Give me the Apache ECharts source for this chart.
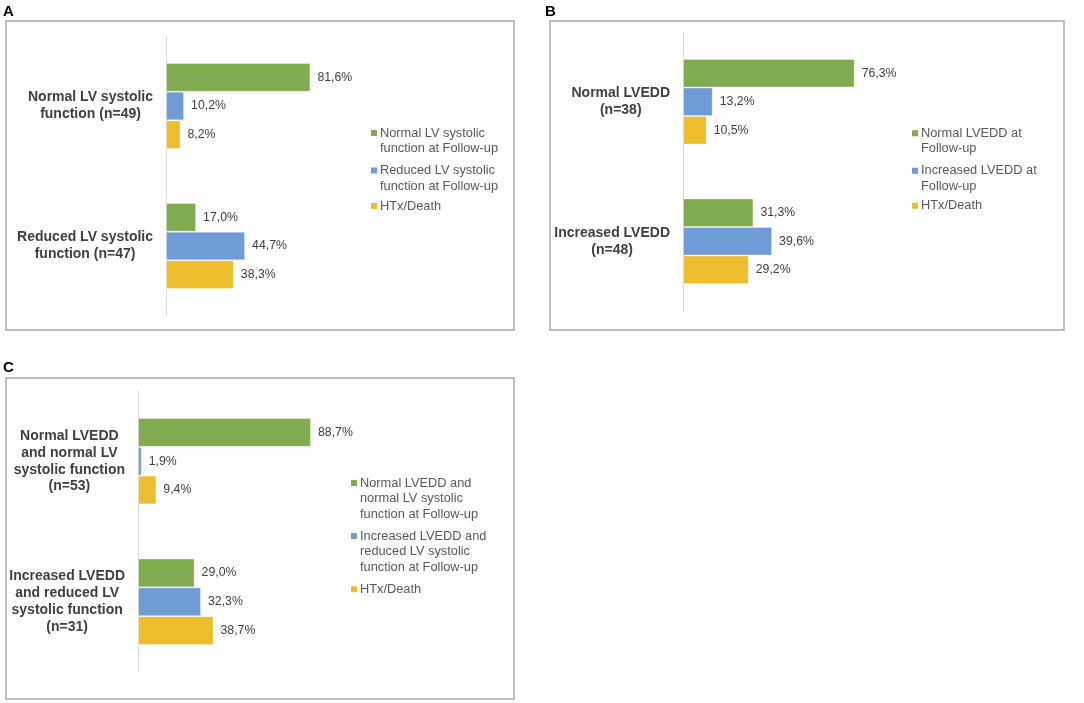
<!DOCTYPE html>
<html>
<head>
<meta charset="utf-8">
<script src="https://cdn.jsdelivr.net/npm/echarts@6/dist/echarts.min.js"></script>
<style>
html,body{margin:0;padding:0;background:#fff;}
#chart{width:1084px;height:703px;}
</style>
</head>
<body>
<div id="chart"></div>
<script>
// ---- Data ----
const catsA = ['Normal LV systolic\nfunction (n=49)', 'Reduced LV systolic\nfunction (n=47)'];
const legA = ['Normal LV systolic\nfunction at Follow-up', 'Reduced LV systolic\nfunction at Follow-up', 'HTx/Death'];
const greenA = [81.6, 17.0];
const blueA = [10.2, 44.7];
const yellowA = [8.2, 38.3];

const catsB = ['Normal LVEDD\n(n=38)', 'Increased LVEDD\n(n=48)'];
const legB = ['Normal LVEDD at\nFollow-up', 'Increased LVEDD at\nFollow-up', 'HTx/Death'];
const greenB = [76.3, 31.3];
const blueB = [13.2, 39.6];
const yellowB = [10.5, 29.2];

const catsC = ['Normal LVEDD\nand normal LV\nsystolic function\n(n=53)', 'Increased LVEDD\nand reduced LV\nsystolic function\n(n=31)'];
const legC = ['Normal LVEDD and\nnormal LV systolic\nfunction at Follow-up', 'Increased LVEDD and\nreduced LV systolic\nfunction at Follow-up', 'HTx/Death'];
const greenC = [88.7, 29.0];
const blueC = [1.9, 32.3];
const yellowC = [9.4, 38.7];

// ---- Styling ----
const FONT = "'Liberation Sans', Arial, sans-serif";
const COLORS = ['#80ab4e', '#6f9bd6', '#edbd2d'];
const panels = [
  {cats: catsA, leg: legA, vals: [greenA, blueA, yellowA], grid: {left: 166, top: 36, width: 177, height: 280},
   legLeft: 371, legTop: 125.25, leg2Top: 198.25, lines: 2},
  {cats: catsB, leg: legB, vals: [greenB, blueB, yellowB], grid: {left: 683, top: 32, width: 225, height: 279},
   legLeft: 912, legTop: 125.5, leg2Top: 198, lines: 2},
  {cats: catsC, leg: legC, vals: [greenC, blueC, yellowC], grid: {left: 138, top: 391, width: 195, height: 281},
   legLeft: 351, legTop: 475.25, leg2Top: 581.5, lines: 3}
];

const LH = 15.5;
const grids = [], xAxes = [], yAxes = [], series = [], legends = [];
panels.forEach((p, i) => {
  grids.push(Object.assign({containLabel: false}, p.grid));
  xAxes.push({type: 'value', gridIndex: i, min: 0, max: 100, show: false});
  yAxes.push({
    type: 'category', gridIndex: i, data: p.cats, inverse: true,
    axisLine: {show: true, lineStyle: {color: '#d9d9d9', width: 1}},
    axisTick: {show: false}, splitLine: {show: false},
    axisLabel: {
      margin: 13, align: 'right',
      formatter: v => v.split('\n').map(s => '{c|' + s + '}').join('\n'),
      rich: {c: {fontFamily: FONT, fontWeight: 'bold', fontSize: 14, lineHeight: 16.8, color: '#404040', align: 'center'}}
    }
  });
  p.vals.forEach((arr, k) => {
    series.push({
      type: 'bar', name: p.leg[k], xAxisIndex: i, yAxisIndex: i, data: arr,
      barGap: '0%', barCategoryGap: '38.6%',
      itemStyle: {color: COLORS[k], borderColor: 'rgba(255,255,255,0.35)', borderWidth: 1},
      label: {show: true, position: 'right', distance: 7, fontFamily: FONT, fontSize: 12.3, color: '#404040',
              formatter: d => d.value.toFixed(1).replace('.', ',') + '%'},
      emphasis: {disabled: true}
    });
  });
  // icon box height so that the square sits level with the first text line
  const iconH = (p.lines - 1) * LH + 6;
  const path = 'path://M0,0L6,0L6,6L0,6Z M0,' + iconH + 'L0.01,' + iconH;
  legends.push({
    data: [{name: p.leg[0], icon: path}, {name: p.leg[1], icon: path}],
    orient: 'vertical', left: p.legLeft, top: p.legTop, padding: 0, itemGap: 6.5,
    itemWidth: 6, itemHeight: iconH, selectedMode: false,
    itemStyle: {borderWidth: 0},
    textStyle: {fontFamily: FONT, fontSize: 12.8, lineHeight: LH, color: '#595959', padding: [0, 0, 0, -2]}
  });
  legends.push({
    data: [{name: p.leg[2], icon: 'rect'}],
    orient: 'vertical', left: p.legLeft, top: p.leg2Top, padding: 0,
    itemWidth: 6, itemHeight: 6, selectedMode: false,
    itemStyle: {borderWidth: 0},
    textStyle: {fontFamily: FONT, fontSize: 12.8, lineHeight: LH, color: '#595959', padding: [0, 0, 0, -2]}
  });
});

const frame = (x, y, w, h) => ({type: 'rect', shape: {x, y, width: w, height: h}, silent: true,
  style: {fill: 'none', stroke: '#aaaaaa', lineWidth: 1.5}, z: -1});
const letter = (t, x, y) => ({type: 'text', x, y, silent: true,
  style: {text: t, font: 'bold 15px ' + FONT, fill: '#000', textVerticalAlign: 'middle'}});

const chart = echarts.init(document.getElementById('chart'), null, {renderer: 'canvas'});
chart.setOption({
  animation: false,
  grid: grids, xAxis: xAxes, yAxis: yAxes, series, legend: legends,
  graphic: [
    frame(6, 21, 508, 309), frame(550, 21, 514, 309), frame(6, 378, 508, 321),
    letter('A', 3, 12), letter('B', 545, 12), letter('C', 3, 368)
  ]
});
</script>
</body>
</html>
